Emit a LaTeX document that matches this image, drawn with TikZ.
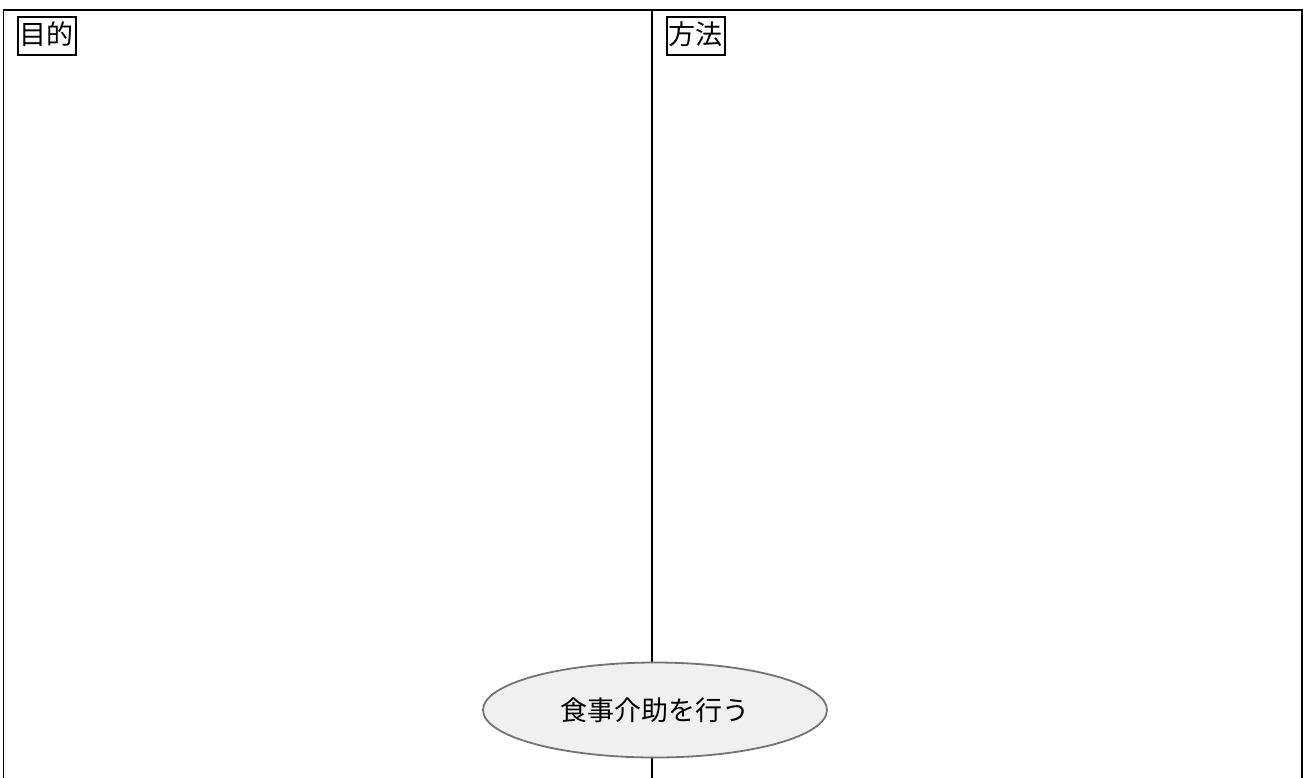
\documentclass[tikz,border=0pt]{standalone}
\usepackage{fontspec}
\newfontfamily\cjk{Noto Sans CJK JP}
\usetikzlibrary{shapes.geometric}
\tikzset{
  frame/.style={line width=1.6pt, black},
  label/.style={draw, line width=1.6pt, inner xsep=2pt, inner ysep=6pt, text height=22pt, text depth=4pt, font=\cjk\fontsize{27}{29}\selectfont, anchor=north west},
  oval/.style={ellipse, draw=black!55, line width=1.8pt, fill=black!6, minimum width=344pt, minimum height=95pt, inner sep=0pt, font=\cjk\fontsize{27}{29}\selectfont}
}
\begin{document}
\begin{tikzpicture}[x=1pt,y=-1pt]
\useasboundingbox (0,0) rectangle (1305,777);
\coordinate (tl) at (3.5,10);
\coordinate (tr) at (1302,10);
\coordinate (bl) at (3.5,790);
\coordinate (br) at (1302,790);
\coordinate (dtop) at (652,10);
\coordinate (dbot) at (652,790);
\draw[frame] (bl) -- (tl) -- (tr) -- (br);
\draw[frame] (dtop) -- (dbot);
\node[label] (mokuteki) at (17,16) {目的};
\node[label] (houhou) at (666,16) {方法};
\node[oval] (task) at (655,710) {食事介助を行う};
\end{tikzpicture}
\end{document}
